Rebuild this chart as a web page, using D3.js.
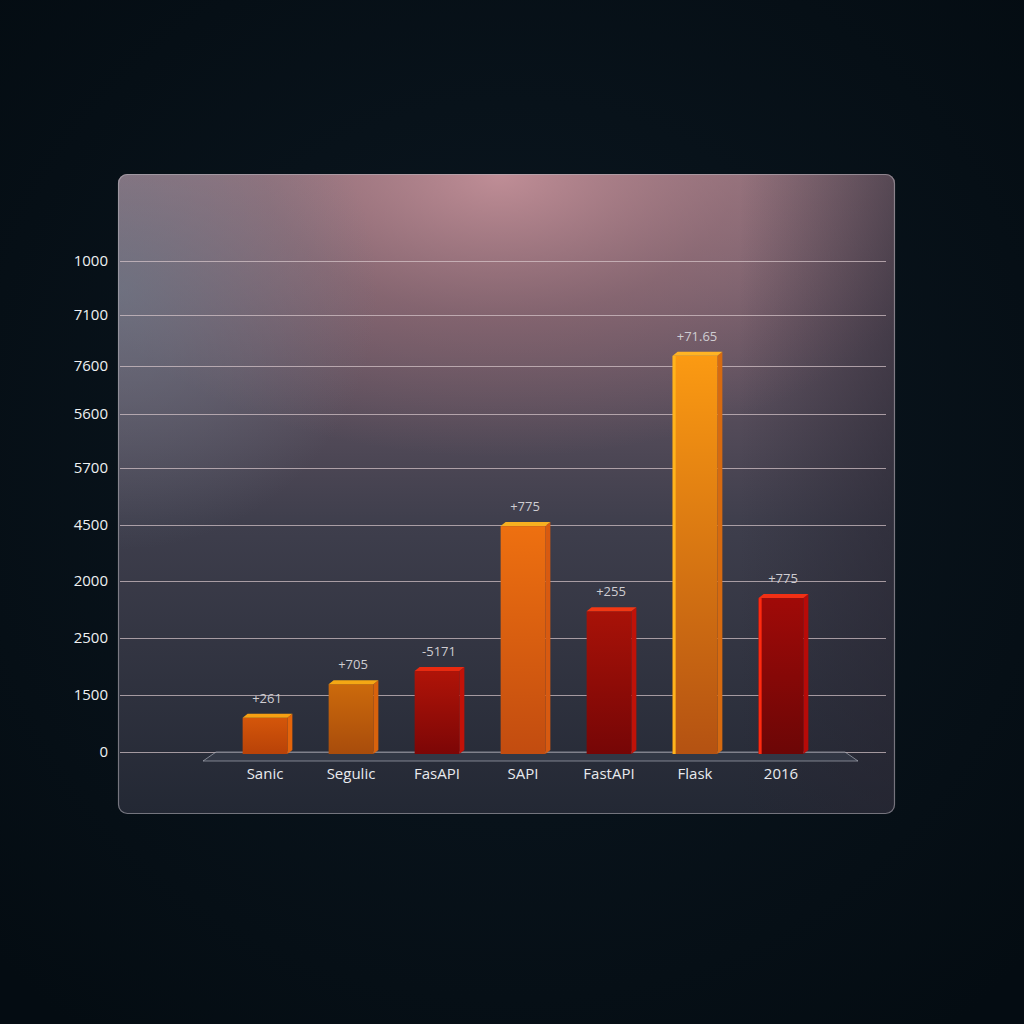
<!DOCTYPE html>
<html>
<head>
<meta charset="utf-8">
<script src="https://cdn.jsdelivr.net/npm/d3@7"></script>
<style>
  html, body { margin: 0; padding: 0; background: #06111a; }
  svg { display: block; }
  text { font-family: "Open Sans", "Noto Sans", sans-serif; }
</style>
</head>
<body>
<div id="chart"></div>
<script>
// data
const categories = ["Sanic", "Segulic", "FasAPI", "SAPI", "FastAPI", "Flask", "2016"];
const values = [0.6, 1.19, 1.42, 3.98, 2.47, 7.2, 2.7];   // in grid steps
const valueLabels = ["+261", "+705", "-5171", "+775", "+255", "+71.65", "+775"];
const tickLabels = ["0", "1500", "2500", "2000", "4500", "5700", "5600", "7600", "7100", "1000"];

// bar colours: [front top, front bottom, top face, side face, left edge]
const barColors = [
    ["#d4560a", "#b84208", "#f7a012", "#e4640a", null],
    ["#cc6a0c", "#a84c0c", "#f5a814", "#d8620c", null],
    ["#b01408", "#7c0606", "#e82a10", "#c21208", null],
    ["#ee7010", "#c24c10", "#f8b020", "#d85a10", null],
    ["#a81208", "#760606", "#f23814", "#c01208", null],
    ["#fb9a12", "#b45212", "#ffb424", "#d66a10", "#ffb41c"],
    ["#a00a08", "#6c0606", "#f23014", "#b80a08", "#ff2a10"]
];

const W = 1024, H = 1024;
const panel = { x: 118, y: 174, w: 777, h: 640 };
const depth = { dx: 5, dy: -4 };
// grid rows as drawn in the picture (the spacing is not even)
const gridRows = [752, 695, 638, 581, 525, 468, 414, 366, 315, 261];

const svg = d3.select("#chart").append("svg")
    .attr("width", W)
    .attr("height", H);

const defs = svg.append("defs");

// background
const bg = defs.append("radialGradient").attr("id", "bg")
    .attr("cx", "50%").attr("cy", "45%").attr("r", "70%");
bg.append("stop").attr("offset", "0%").attr("stop-color", "#0c1822");
bg.append("stop").attr("offset", "100%").attr("stop-color", "#040c12");
svg.append("rect").attr("width", W).attr("height", H).attr("fill", "url(#bg)");

// panel gradients
const pv = defs.append("linearGradient").attr("id", "pv")
    .attr("x1", 0).attr("y1", 0).attr("x2", 0).attr("y2", 1);
pv.append("stop").attr("offset", "0%").attr("stop-color", "#8e7480");
pv.append("stop").attr("offset", "25%").attr("stop-color", "#665664");
pv.append("stop").attr("offset", "55%").attr("stop-color", "#3e3e4c");
pv.append("stop").attr("offset", "100%").attr("stop-color", "#232834");

const glow = defs.append("radialGradient").attr("id", "glow")
    .attr("gradientUnits", "userSpaceOnUse")
    .attr("cx", 500).attr("cy", 175).attr("r", 470)
    .attr("gradientTransform", "translate(500,175) scale(1,0.6) translate(-500,-175)");
glow.append("stop").attr("offset", "0%").attr("stop-color", "#c8929a").attr("stop-opacity", 0.85);
glow.append("stop").attr("offset", "50%").attr("stop-color", "#a07078").attr("stop-opacity", 0.45);
glow.append("stop").attr("offset", "100%").attr("stop-color", "#a07078").attr("stop-opacity", 0);

const leftTint = defs.append("radialGradient").attr("id", "leftTint")
    .attr("gradientUnits", "userSpaceOnUse")
    .attr("cx", 118).attr("cy", 290).attr("r", 260);
leftTint.append("stop").attr("offset", "0%").attr("stop-color", "#6c7888").attr("stop-opacity", 0.7);
leftTint.append("stop").attr("offset", "100%").attr("stop-color", "#6c7888").attr("stop-opacity", 0);

const rightDark = defs.append("linearGradient").attr("id", "rightDark")
    .attr("x1", 0).attr("y1", 0).attr("x2", 1).attr("y2", 0);
rightDark.append("stop").attr("offset", "80%").attr("stop-color", "#262430").attr("stop-opacity", 0);
rightDark.append("stop").attr("offset", "100%").attr("stop-color", "#262430").attr("stop-opacity", 0.55);

const p = svg.append("g");
["url(#pv)", "url(#glow)", "url(#leftTint)", "url(#rightDark)"].forEach(f => {
    p.append("rect")
        .attr("x", panel.x).attr("y", panel.y)
        .attr("width", panel.w).attr("height", panel.h)
        .attr("rx", 9)
        .attr("fill", f);
});
p.append("rect")
    .attr("x", panel.x + 0.5).attr("y", panel.y + 0.5)
    .attr("width", panel.w - 1).attr("height", panel.h - 1)
    .attr("rx", 9)
    .attr("fill", "none")
    .attr("stroke", "#b8b4bc")
    .attr("stroke-opacity", 0.55)
    .attr("stroke-width", 1.2);

// scales
const y = d3.scaleLinear().domain(d3.range(tickLabels.length)).range(gridRows);
const x = d3.scaleBand().domain(categories).range([222, 824]).paddingInner(0.48).paddingOuter(0.24);

// gridlines + tick labels
const yAxis = d3.axisLeft(y)
    .tickValues(d3.range(tickLabels.length))
    .tickFormat(i => tickLabels[i])
    .tickSize(-(886 - 120))
    .tickPadding(12);

const ga = svg.append("g")
    .attr("transform", "translate(120,0)")
    .call(yAxis);
ga.select(".domain").remove();
ga.selectAll(".tick line")
    .attr("stroke", "#d8c8cc")
    .attr("stroke-opacity", 0.7)
    .attr("stroke-width", 1.2);
ga.selectAll(".tick text")
    .attr("fill", "#eef0f2")
    .attr("font-size", 15);

// floor
const y0 = y(0);
svg.append("path")
    .attr("d", `M216,${y0} L845,${y0} L858,${y0 + 9} L203,${y0 + 9} Z`)
    .attr("fill", "#3a4150")
    .attr("fill-opacity", 0.55)
    .attr("stroke", "#b8bcc6")
    .attr("stroke-opacity", 0.6)
    .attr("stroke-width", 1);

// bar gradients
barColors.forEach((c, i) => {
    const g = defs.append("linearGradient").attr("id", "bar" + i)
        .attr("x1", 0).attr("y1", 0).attr("x2", 0).attr("y2", 1);
    g.append("stop").attr("offset", "0%").attr("stop-color", c[0]);
    g.append("stop").attr("offset", "100%").attr("stop-color", c[1]);
});

// bars
const bw = x.bandwidth();
const bars = svg.append("g").selectAll("g.bar")
    .data(categories.map((c, i) => ({ cat: c, v: values[i], lab: valueLabels[i], i })))
    .join("g")
    .attr("class", "bar");

bars.append("path")   // side face
    .attr("d", d => {
        const x1 = x(d.cat) + bw, yt = y(d.v);
        return `M${x1},${yt} L${x1 + depth.dx},${yt + depth.dy} L${x1 + depth.dx},${y0 + depth.dy + 2} L${x1},${y0 + 2} Z`;
    })
    .attr("fill", d => barColors[d.i][3]);

bars.append("rect")   // front face
    .attr("x", d => x(d.cat))
    .attr("y", d => y(d.v))
    .attr("width", bw)
    .attr("height", d => y0 - y(d.v) + 2)
    .attr("fill", d => `url(#bar${d.i})`);

bars.filter(d => barColors[d.i][4])   // bright left edge
    .append("rect")
    .attr("x", d => x(d.cat))
    .attr("y", d => y(d.v))
    .attr("width", 3)
    .attr("height", d => y0 - y(d.v) + 2)
    .attr("fill", d => barColors[d.i][4]);

bars.append("path")   // top face
    .attr("d", d => {
        const x0 = x(d.cat), yt = y(d.v);
        return `M${x0},${yt} L${x0 + depth.dx},${yt + depth.dy} L${x0 + bw + depth.dx},${yt + depth.dy} L${x0 + bw},${yt} Z`;
    })
    .attr("fill", d => barColors[d.i][2]);

bars.append("text")   // value labels
    .attr("x", d => x(d.cat) + bw / 2 + 2)
    .attr("y", d => y(d.v) - 15)
    .attr("text-anchor", "middle")
    .attr("font-size", 13)
    .attr("fill", "#cfcdd2")
    .text(d => d.lab);

// category labels
const xAxis = d3.axisBottom(x).tickSize(0).tickPadding(0);
const gx = svg.append("g")
    .attr("transform", `translate(0,${y0 + 16})`)
    .call(xAxis);
gx.select(".domain").remove();
gx.selectAll(".tick text")
    .attr("fill", "#e8eaee")
    .attr("font-size", 15)
    .attr("dy", "0.71em");
</script>
</body>
</html>
